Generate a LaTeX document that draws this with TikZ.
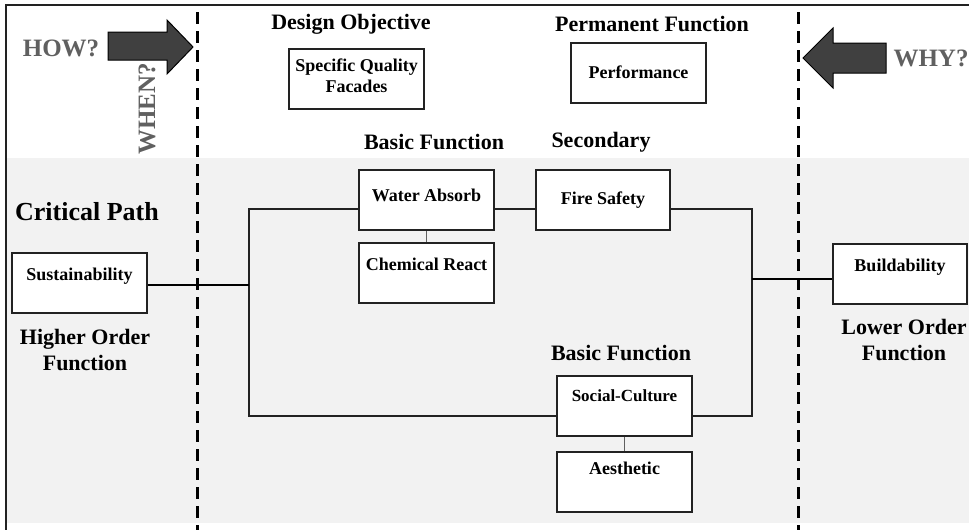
\documentclass[tikz,border=0pt]{standalone}
\usepackage{fontspec}
\setmainfont{Liberation Serif}
\definecolor{bandgray}{HTML}{F2F2F2}
\definecolor{arrowfill}{HTML}{404040}
\definecolor{qgray}{HTML}{606060}
\definecolor{boxline}{HTML}{222222}
\tikzset{
  fbox/.style={draw=boxline, line width=1.6pt, fill=white, minimum width=135pt, minimum height=60pt, inner sep=0pt},
  boxtext/.style={font=\fontsize{18}{21}\selectfont\bfseries, align=center, inner sep=0pt},
  head/.style={font=\fontsize{22}{26}\selectfont\bfseries, align=center, inner sep=0pt},
  qtext/.style={font=\fontsize{25}{28}\selectfont\bfseries, text=qgray, inner sep=0pt},
  divider/.style={line width=3pt, dash pattern=on 12pt off 7pt},
  loopline/.style={line width=1.4pt, draw=boxline},
  thickline/.style={line width=2.8pt, draw=black},
  subline/.style={line width=1pt, draw=qgray},
  bigarrow/.style={fill=arrowfill, draw=black, line width=1pt}
}
\begin{document}
\begin{tikzpicture}[x=1pt, y=-1pt]
\useasboundingbox (0,0) rectangle (969,530);
\fill[white] (0,0) rectangle (969,530);
\fill[bandgray] (6,158) rectangle (969,523);
\draw[line width=1.8pt, draw=boxline] (969,5) -- (6,5) -- (6,530);
% dividers
\coordinate (dl1) at (197,12); \coordinate (dl2) at (197,530);
\coordinate (dr1) at (798,12); \coordinate (dr2) at (798,530);
\draw[divider] (dl1) -- (dl2);
\draw[divider] (dr1) -- (dr2);
% arrows
\draw[bigarrow] (108,32) -- (167,32) -- (167,20) -- (193,47) -- (167,74) -- (167,60) -- (108,60) -- cycle;
\draw[bigarrow] (886,43) -- (833,43) -- (833,28) -- (803,58) -- (833,88) -- (833,73) -- (886,73) -- cycle;
\node[qtext] (how) at (61,48) {HOW?};
\node[qtext] (why) at (931,58) {WHY?};
\node[qtext, rotate=90] (when) at (147,109) {WHEN?};
% headings
\node[head] (hdo) at (351,24) {Design Objective};
\node[head] (hpf) at (652,24) {Permanent Function};
\node[head] (hbf) at (434,142) {Basic Function};
\node[head] (hsec) at (601,142) {Secondary};
\node[head, font=\fontsize{26}{30}\selectfont\bfseries] (hcp) at (87,212) {Critical Path};
\node[head] (hho) at (85,350) {Higher Order\\Function};
\node[head] (hlo) at (904,340) {Lower Order\\Function};
\node[head] (hbf2) at (621,353) {Basic Function};
% boxes
\node[fbox] (sq) at (356.5,79) {};
\node[boxtext] at (356.5,75.5) {Specific Quality\\Facades};
\node[fbox] (pf) at (638.5,73) {};
\node[boxtext] at (638.5,72) {Performance};
\node[fbox] (wa) at (426.5,200) {};
\node[boxtext] at (426.5,195) {Water Absorb};
\node[fbox] (cr) at (426.5,273) {};
\node[boxtext] at (426.5,264) {Chemical React};
\node[fbox, minimum width=134pt] (fs) at (603,200) {};
\node[boxtext] at (603,200) {Fire Safety};
\node[fbox] (sc) at (624.5,406) {};
\node[boxtext, font=\fontsize{17}{20}\selectfont\bfseries] at (624.5,396) {Social-Culture};
\node[fbox] (ae) at (624.5,482) {};
\node[boxtext] at (624.5,468) {Aesthetic};
\node[fbox] (su) at (79.5,283) {};
\node[boxtext] at (79.5,276) {Sustainability};
\node[fbox, minimum width=134pt] (bd) at (900,274) {};
\node[boxtext] at (900,267) {Buildability};
% loop
\coordinate (lt) at (249,209);
\coordinate (lb) at (249,416);
\coordinate (rt) at (752,209);
\coordinate (rb) at (752,416);
\draw[loopline] ([yshift=-9pt]wa.east) -- ([yshift=-9pt]fs.west);
\draw[loopline] ([yshift=-9pt]fs.east) -- (rt) -- (rb) -- (sc.east |- rb);
\draw[loopline] (sc.west |- lb) -- (lb) -- (lt) -- ([yshift=-9pt]wa.west);
\draw[subline] (wa.south) -- (cr.north);
\draw[subline] (sc.south) -- (ae.north);
% thick links
\coordinate (sul) at ([yshift=-2pt]su.east);
\coordinate (bdl) at ([yshift=-5pt]bd.west);
\draw[thickline] (sul) -- (lt |- sul);
\draw[thickline] (rt |- bdl) -- (bdl);
\end{tikzpicture}
\end{document}
